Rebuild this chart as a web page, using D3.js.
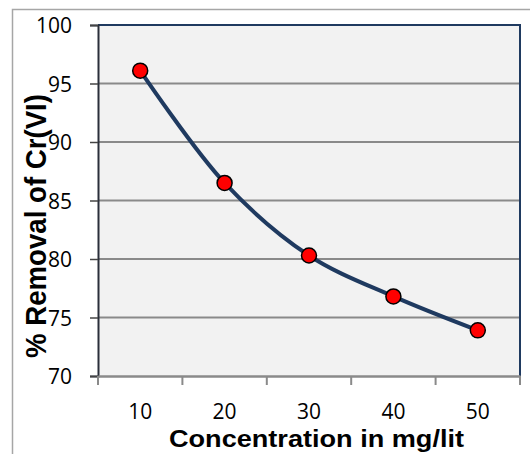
<!DOCTYPE html>
<html><head><meta charset="utf-8">
<script src="https://cdn.jsdelivr.net/npm/d3@7"></script>
<style>body{margin:0;background:#fff;}svg{display:block;}</style>
</head><body>
<svg id="c" width="530" height="454"></svg>
<script>
const categories = ["10","20","30","40","50"];
const removal = [96.1, 86.5, 80.3, 76.8, 73.9];
const yTicks = [70,75,80,85,90,95,100];
const yTitle = "% Removal of Cr(VI)";
const xTitle = "Concentration in mg/lit";

const svg = d3.select("#c");
const L=98, R=520, T=25, B=376;
// outer chart border
svg.append("rect").attr("x",12.5).attr("y",9.5).attr("width",540).attr("height",460)
  .attr("fill","#fff").attr("stroke","#a6a6a6").attr("stroke-width",1.5);
const x = d3.scaleBand().domain(categories).range([L,R]).padding(0);
const y = d3.scaleLinear().domain([70,100]).range([B,T]);
svg.append("rect").attr("x",L).attr("y",T).attr("width",R-L).attr("height",B-T).attr("fill","#f2f2f2");
// gridlines
svg.append("g").selectAll("line").data(yTicks.filter(d=>d>70&&d<100)).join("line")
  .attr("x1",L).attr("x2",R).attr("y1",d=>y(d)).attr("y2",d=>y(d))
  .attr("stroke","#8a8a8a").attr("stroke-width",2);
// top & right border
svg.append("path").attr("d",`M${L},${T}H${R}V${B}`).attr("fill","none").attr("stroke","#1f3a60").attr("stroke-width",2);
// y axis
const ya = svg.append("g").attr("transform",`translate(${L},0)`)
  .call(d3.axisLeft(y).tickValues(yTicks).tickSize(8).tickPadding(18).tickFormat(d3.format("d")));
ya.select(".domain").attr("stroke","#2a2f3a").attr("stroke-width",2);
ya.selectAll(".tick line").attr("stroke","#444").attr("stroke-width",1.5);
ya.selectAll("text").attr("font-family","'Open Sans'").attr("font-size",21).attr("fill","#000").attr("dy","0.36em");
// x axis
const xa = svg.append("g").attr("transform",`translate(0,${B})`)
  .call(d3.axisBottom(x).tickSize(0).tickPadding(28));
xa.select(".domain").attr("stroke","#8a8a8a").attr("stroke-width",2.5);
xa.selectAll("text").attr("font-family","'Open Sans'").attr("font-size",21).attr("fill","#000");
const bounds = categories.map(c=>x(c)).concat([x(categories[categories.length-1])+x.bandwidth()]);
xa.append("g").selectAll("line").data(bounds).join("line")
  .attr("x1",d=>d).attr("x2",d=>d).attr("y1",0).attr("y2",9).attr("stroke","#8a8a8a").attr("stroke-width",2);
// line
const pts = categories.map((c,i)=>[x(c)+x.bandwidth()/2, y(removal[i])]);
svg.append("path").datum(pts).attr("d",d3.line().curve(d3.curveCatmullRom.alpha(0.5)))
  .attr("fill","none").attr("stroke","#1f3a60").attr("stroke-width",4);
svg.append("g").selectAll("circle").data(pts).join("circle")
  .attr("cx",d=>d[0]).attr("cy",d=>d[1]).attr("r",7.5)
  .attr("fill","#ff0000").attr("stroke","#000").attr("stroke-width",1.5);
// titles
svg.append("text").attr("transform","translate(46,226) scale(1.17,1) rotate(-90)").attr("text-anchor","middle")
  .attr("font-family","'Liberation Sans', Arial").attr("font-weight","bold").attr("font-size",25.5)
  .attr("textLength",264).attr("lengthAdjust","spacingAndGlyphs").text(yTitle);
svg.append("text").attr("x",316.5).attr("y",447).attr("text-anchor","middle")
  .attr("font-family","'Liberation Sans', Arial").attr("font-weight","bold").attr("font-size",23.5)
  .attr("textLength",295).attr("lengthAdjust","spacingAndGlyphs").text(xTitle);
</script>
</body></html>
